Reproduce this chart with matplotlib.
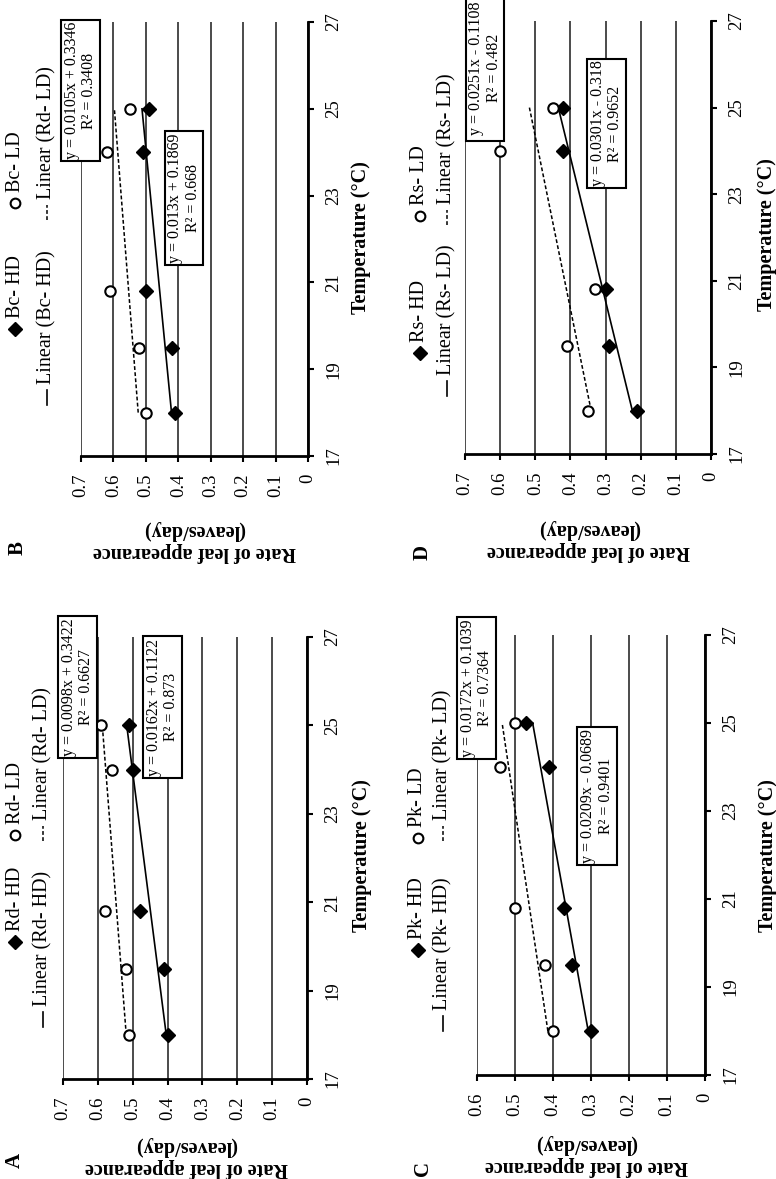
import numpy as np
import matplotlib.pyplot as plt
from matplotlib.lines import Line2D
from matplotlib.patches import Rectangle

plt.rcParams['font.family'] = ['Liberation Serif', 'DejaVu Serif']

W, H = 776, 1179

temps = [18, 19.5, 20.8, 24, 25]
temp_ticks = [17, 19, 21, 23, 25, 27]

rd_hd = [0.40, 0.41, 0.48, 0.50, 0.51]
rd_ld = [0.51, 0.52, 0.58, 0.56, 0.59]
bc_hd = [0.41, 0.42, 0.50, 0.51, 0.49]
bc_ld = [0.50, 0.52, 0.61, 0.62, 0.55]
pk_hd = [0.30, 0.35, 0.37, 0.41, 0.47]
pk_ld = [0.40, 0.42, 0.50, 0.54, 0.50]
rs_hd = [0.21, 0.29, 0.30, 0.42, 0.42]
rs_ld = [0.35, 0.41, 0.33, 0.60, 0.45]

# trendlines as printed: (slope, intercept)
rd_fits = [(0.0162, 0.1122), (0.0098, 0.3422)]
bc_fits = [(0.013, 0.1869), (0.0105, 0.3346)]
pk_fits = [(0.0209, -0.0689), (0.0172, 0.1039)]
rs_fits = [(0.0301, -0.318), (0.0251, -0.1108)]

rd_eqs = ['y = 0.0162x + 0.1122\nR² = 0.873', 'y = 0.0098x + 0.3422\nR² = 0.6627']
bc_eqs = ['y = 0.013x + 0.1869\nR² = 0.668', 'y = 0.0105x + 0.3346\nR² = 0.3408']
pk_eqs = ['y = 0.0209x - 0.0689\nR² = 0.9401', 'y = 0.0172x + 0.1039\nR² = 0.7364']
rs_eqs = ['y = 0.0301x - 0.318\nR² = 0.9652', 'y = 0.0251x - 0.1108\nR² = 0.482']

rd_names = ['Rd- HD', 'Rd- LD', 'Linear (Rd- HD)', 'Linear (Rd- LD)']
bc_names = ['Bc- HD', 'Bc- LD', 'Linear (Bc- HD)', 'Linear (Rd- LD)']
pk_names = ['Pk- HD', 'Pk- LD', 'Linear (Pk- HD)', 'Linear (Pk- LD)']
rs_names = ['Rs- HD', 'Rs- LD', 'Linear (Rs- LD)', 'Linear (Rs- LD)']


def fx(x):
    return x / W


def fy(y):
    return 1 - y / H


def draw_panel(fig, lay, rate_max, hd, ld, fits, eqs, names, letter):
    l, t, r, b = lay['axes']
    ax = fig.add_axes([fx(l), fy(b), (r - l) / W, (b - t) / H])
    ax.set_xlim(rate_max, 0)
    ax.set_ylim(17, 27)
    rticks = np.round(np.arange(0, rate_max + 0.001, 0.1), 1)
    ax.set_xticks(rticks)
    ax.set_xticklabels(['0' if v == 0 else '%.1f' % v for v in rticks])
    ax.set_yticks(temp_ticks)
    ax.yaxis.tick_right()
    for s in ['left', 'top']:
        ax.spines[s].set_visible(False)
    for s in ['bottom', 'right']:
        ax.spines[s].set_linewidth(2)
        ax.spines[s].set_zorder(4)
    ax.grid(axis='x', color='#1a1a1a', lw=1.1)
    ax.set_axisbelow(True)
    ax.tick_params(axis='x', direction='out', length=4.5, width=1.5,
                   labelrotation=90, labelsize=13.5, pad=8)
    ax.tick_params(axis='y', direction='out', length=4.5, width=1.5,
                   labelrotation=90, labelsize=13.5, pad=8)
    for lab in ax.get_yticklabels():
        lab.set_va('center')

    tt = np.array([temps[0], temps[-1]])
    ax.plot(fits[0][0] * tt + fits[0][1], tt, color='black', lw=1.2, zorder=2)
    ax.plot(fits[1][0] * tt + fits[1][1], tt, color='black', lw=1.1,
            dashes=(2.5, 1.5), zorder=2)
    ax.plot(hd, temps, 'D', color='black', ms=7, zorder=3, clip_on=False)
    ax.plot(ld, temps, 'o', mfc='white', mec='black', mew=1.5, ms=7.5,
            zorder=3, clip_on=False)

    # equation boxes
    for eq, (bl, bt, br, bb) in zip(eqs, lay['eq_boxes']):
        fig.add_artist(Rectangle((fx(bl), fy(bb)), (br - bl) / W, (bb - bt) / H,
                                 transform=fig.transFigure, fc='white',
                                 ec='black', lw=1.5, zorder=5))
        fig.text(fx((bl + br) / 2), fy((bt + bb) / 2), eq, rotation=90,
                 ha='center', va='center', multialignment='center',
                 fontsize=11.5, linespacing=1.15, zorder=6)

    # legend (drawn by hand, rotated with the chart)
    x1, x2 = lay['leg_x']
    fs = 14.5
    fig.add_artist(Line2D([fx(x1)], [fy(lay['hd_m'])], marker='D', ms=7,
                          color='black', ls='none', transform=fig.transFigure))
    fig.text(fx(x1), fy(lay['hd_m'] - 11), names[0], rotation=90,
             rotation_mode='anchor', ha='left', va='center', fontsize=fs)
    fig.add_artist(Line2D([fx(x1)], [fy(lay['ld_m'])], marker='o', ms=7,
                          mfc='white', mec='black', mew=1.5, ls='none',
                          transform=fig.transFigure))
    fig.text(fx(x1), fy(lay['ld_m'] - 11), names[1], rotation=90,
             rotation_mode='anchor', ha='left', va='center', fontsize=fs)
    s0, s1 = lay['hd_seg']
    fig.add_artist(Line2D([fx(x2), fx(x2)], [fy(s0), fy(s1)], color='black',
                          lw=1.2, transform=fig.transFigure))
    fig.text(fx(x2), fy(s1 - 6), names[2], rotation=90,
             rotation_mode='anchor', ha='left', va='center', fontsize=fs)
    s0, s1 = lay['ld_seg']
    fig.add_artist(Line2D([fx(x2), fx(x2)], [fy(s0), fy(s1)], color='black',
                          lw=1.1, dashes=(2.5, 1.5), transform=fig.transFigure))
    fig.text(fx(x2), fy(s1 - 6), names[3], rotation=90,
             rotation_mode='anchor', ha='left', va='center', fontsize=fs)

    # axis titles and panel letter
    tx, ty = lay['temp_lab']
    fig.text(fx(tx), fy(ty), 'Temperature (°C)', rotation=90, ha='center',
             va='center', fontsize=14.5, fontweight='bold')
    rx, ry = lay['rate_lab']
    fig.text(fx(rx), fy(ry), 'Rate of leaf appearance\n(leaves/day)',
             rotation=180, ha='center', va='center', multialignment='center',
             fontsize=14.5, fontweight='bold', linespacing=1.1)
    lx, ly = lay['letter']
    fig.text(fx(lx), fy(ly), letter, rotation=90, ha='center', va='center',
             fontsize=15, fontweight='bold')


def main():
    fig = plt.figure(figsize=(W / 100, H / 100), dpi=100)

    lay_a = dict(axes=(63, 637, 307, 1079),
                 eq_boxes=[(143, 636, 182, 778), (58, 616, 97, 758)],
                 leg_x=(15, 43), hd_m=942, ld_m=835,
                 hd_seg=(1027, 1012), ld_seg=(841, 826),
                 temp_lab=(362, 856), rate_lab=(186, 1157), letter=(15, 1160))
    lay_b = dict(axes=(81, 22, 308, 456),
                 eq_boxes=[(165, 131, 203, 265), (61, 20, 100, 161)],
                 leg_x=(15, 47), hd_m=329, ld_m=203,
                 hd_seg=(405, 390), ld_seg=(220, 205),
                 temp_lab=(361, 238), rate_lab=(194, 541), letter=(18, 548))
    lay_c = dict(axes=(477, 635, 705, 1075),
                 eq_boxes=[(577, 727, 617, 865), (457, 617, 496, 759)],
                 leg_x=(418, 443), hd_m=950, ld_m=838,
                 hd_seg=(1031, 1016), ld_seg=(841, 826),
                 temp_lab=(768, 856), rate_lab=(586, 1155), letter=(423, 1168))
    lay_d = dict(axes=(465, 21, 711, 454),
                 eq_boxes=[(587, 59, 626, 188), (466, -5, 504, 141)],
                 leg_x=(420, 447), hd_m=353, ld_m=216,
                 hd_seg=(396, 381), ld_seg=(225, 210),
                 temp_lab=(767, 235), rate_lab=(589, 540), letter=(423, 552))

    draw_panel(fig, lay_a, 0.7, rd_hd, rd_ld, rd_fits, rd_eqs, rd_names, 'A')
    draw_panel(fig, lay_b, 0.7, bc_hd, bc_ld, bc_fits, bc_eqs, bc_names, 'B')
    draw_panel(fig, lay_c, 0.6, pk_hd, pk_ld, pk_fits, pk_eqs, pk_names, 'C')
    draw_panel(fig, lay_d, 0.7, rs_hd, rs_ld, rs_fits, rs_eqs, rs_names, 'D')

    fig.savefig('out.png', dpi=100)


if __name__ == "__main__":
    main()
